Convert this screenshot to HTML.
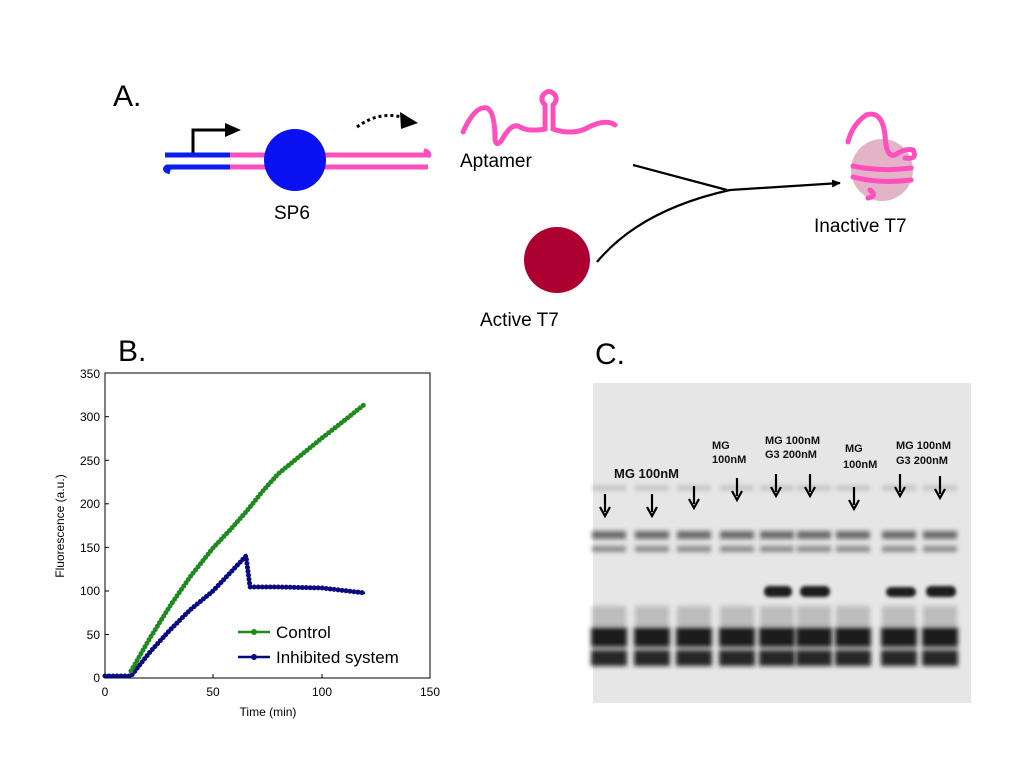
<!DOCTYPE html>
<html><head><style>body{margin:0;background:#fff}svg{display:block}text{font-family:"Liberation Sans",Arial,sans-serif}</style></head><body>
<svg width="1024" height="768" viewBox="0 0 1024 768" xmlns="http://www.w3.org/2000/svg">
<defs>
<filter id="bl" x="-50%" y="-100%" width="200%" height="300%"><feGaussianBlur stdDeviation="2.5"/></filter>
<filter id="bl2" x="-50%" y="-100%" width="200%" height="300%"><feGaussianBlur stdDeviation="1.5"/></filter>
<marker id="ah" markerWidth="10" markerHeight="10" refX="8" refY="5" orient="auto" markerUnits="userSpaceOnUse"><path d="M0,1 L9,5 L0,9 Z" fill="#000"/></marker>
<g id="lane" filter="url(#bl)">
<rect x="-17" y="485" width="34" height="6" fill="#aaa" opacity="0.5"/>
<rect x="-17" y="531" width="34" height="8" fill="#6a6a6a"/>
<rect x="-17" y="546" width="34" height="6" fill="#8a8a8a"/>
<rect x="-17" y="606" width="34" height="20" fill="#aaa" opacity="0.7"/>
<rect x="-18" y="627" width="36" height="20" fill="#1e1e1e"/>
<rect x="-18" y="650" width="36" height="16" fill="#262626"/>
</g>
</defs>
<!-- Panel A -->
<text x="113" y="106" font-size="30">A.</text>
<path d="M193,153 V130 H226" stroke="#000" stroke-width="3" fill="none"/>
<path d="M225,123 L241,130 L225,137 Z" fill="#000"/>
<line x1="165" y1="155" x2="230" y2="155" stroke="#0a1ef0" stroke-width="5"/>
<path d="M230,167 H167 Q163,170 170,172" stroke="#0a1ef0" stroke-width="5" fill="none"/>
<line x1="230" y1="155" x2="430" y2="155" stroke="#ff4fbd" stroke-width="5"/>
<line x1="230" y1="167" x2="428" y2="167" stroke="#ff4fbd" stroke-width="5"/>
<path d="M424,150 Q432,153 428,157" stroke="#ff4fbd" stroke-width="4" fill="none"/>
<circle cx="295" cy="160" r="31" fill="#0a12f2"/>
<text x="274" y="219" font-size="19">SP6</text>
<path d="M357,127 Q380,110 405,118" stroke="#000" stroke-width="3" stroke-dasharray="3 3" fill="none"/>
<path d="M400,112 L418,123 L401,129 Z" fill="#000"/>
<path d="M463,132 Q475,105 487,108 Q495,112 495,140 Q497,148 503,138 Q512,122 520,127 Q528,132 545,129 V105 Q540,100 543,95 Q549,88 555,95 Q558,100 553,105 V129 Q570,135 585,129 Q605,118 615,125" stroke="#ff4fbd" stroke-width="5" fill="none" stroke-linecap="round"/>
<text x="460" y="167" font-size="19">Aptamer</text>
<path d="M633,165 Q690,180 727,190" stroke="#000" stroke-width="2.2" fill="none"/>
<path d="M597,262 Q640,210 730,190 L840,183" stroke="#000" stroke-width="2.2" fill="none" marker-end="url(#ah)"/>
<circle cx="557" cy="260" r="33" fill="#ad0030"/>
<text x="480" y="326" font-size="19">Active T7</text>
<circle cx="882" cy="170" r="31" fill="#e3b3c7"/>
<path d="M848,142 Q852,125 866,115 Q882,110 885,135 Q886,158 895,155 Q905,148 913,150 Q918,160 905,158" stroke="#ff4fbd" stroke-width="5" fill="none" stroke-linecap="round"/>
<path d="M853,166 Q880,172 911,168 M853,177 Q880,184 911,180 M868,198 Q878,196 870,190" stroke="#ff4fbd" stroke-width="5" fill="none" stroke-linecap="round"/>
<text x="814" y="232" font-size="19">Inactive T7</text>
<!-- Panel B -->
<text x="118" y="361" font-size="30">B.</text>
<rect x="105" y="373" width="325" height="305" fill="none" stroke="#000" stroke-width="1"/>
<g font-size="12" text-anchor="end">
<text x="100" y="682">0</text><text x="100" y="639">50</text><text x="100" y="595">100</text><text x="100" y="552">150</text><text x="100" y="508">200</text><text x="100" y="465">250</text><text x="100" y="421">300</text><text x="100" y="378">350</text>
</g>
<g stroke="#000" stroke-width="1">
<line x1="105" y1="634.5" x2="109" y2="634.5"/><line x1="105" y1="591" x2="109" y2="591"/><line x1="105" y1="547.4" x2="109" y2="547.4"/><line x1="105" y1="503.8" x2="109" y2="503.8"/><line x1="105" y1="460.3" x2="109" y2="460.3"/><line x1="105" y1="416.7" x2="109" y2="416.7"/>
<line x1="213" y1="678" x2="213" y2="674"/><line x1="322" y1="678" x2="322" y2="674"/>
</g>
<g font-size="12" text-anchor="middle">
<text x="105" y="696">0</text><text x="213" y="696">50</text><text x="322" y="696">100</text><text x="430" y="696">150</text>
</g>
<text x="268" y="716" font-size="12" text-anchor="middle">Time (min)</text>
<text transform="translate(64,526) rotate(-90)" font-size="12" text-anchor="middle">Fluorescence (a.u.)</text>
<path d="M105,676 L131,676 L150,652 L170,630 L190,610 L213,591 L230,573 L246,556 L250,587 L278,587 L322,588 L365,593" stroke="#0a0a80" stroke-width="2.5" fill="none"/>
<path d="M105,676 L131,676 L150,652 L170,630 L190,610 L213,591 L230,573 L246,556 L250,587 L278,587 L322,588 L365,593" stroke="#0a0a80" stroke-width="5" stroke-dasharray="0 4" stroke-linecap="round" fill="none"/>
<path d="M131,671 L150,638 L170,606 L190,577 L213,548 L230,530 L246,512 L262,492 L278,474 L300,456 L322,438 L345,420 L365,404" stroke="#1f8a1f" stroke-width="2.5" fill="none"/>
<path d="M131,671 L150,638 L170,606 L190,577 L213,548 L230,530 L246,512 L262,492 L278,474 L300,456 L322,438 L345,420 L365,404" stroke="#1f8a1f" stroke-width="5" stroke-dasharray="0 4" stroke-linecap="round" fill="none"/>
<line x1="238" y1="632" x2="270" y2="632" stroke="#1f8a1f" stroke-width="2.5"/><circle cx="254" cy="632" r="3" fill="#1f8a1f"/>
<line x1="238" y1="657" x2="270" y2="657" stroke="#0a0a80" stroke-width="2.5"/><circle cx="254" cy="657" r="3" fill="#0a0a80"/>
<text x="276" y="638" font-size="17">Control</text>
<text x="276" y="663" font-size="17">Inhibited system</text>
<!-- Panel C -->
<text x="595" y="364" font-size="30">C.</text>
<rect x="593" y="383" width="378" height="320" fill="#e6e6e6"/>
<use href="#lane" transform="translate(609,0)"/>
<use href="#lane" transform="translate(652,0)"/>
<use href="#lane" transform="translate(694,0)"/>
<use href="#lane" transform="translate(737,0)"/>
<use href="#lane" transform="translate(777,0)"/>
<use href="#lane" transform="translate(814,0)"/>
<use href="#lane" transform="translate(853,0)"/>
<use href="#lane" transform="translate(899,0)"/>
<use href="#lane" transform="translate(940,0)"/>
<g fill="#1a1a1a" filter="url(#bl2)">
<rect x="764" y="586" width="28" height="11" rx="5"/><rect x="800" y="586" width="30" height="11" rx="5"/>
<rect x="886" y="587" width="30" height="10" rx="5"/><rect x="926" y="586" width="30" height="11" rx="5"/>
</g>
<g stroke="#000" stroke-width="2.2" fill="#000">
<line x1="605" y1="494" x2="605" y2="512"/><path d="M600,507 L605,516 L610,507" fill="none"/>
<line x1="652" y1="494" x2="652" y2="512"/><path d="M647,507 L652,516 L657,507" fill="none"/>
<line x1="694" y1="486" x2="694" y2="504"/><path d="M689,499 L694,508 L699,499" fill="none"/>
<line x1="737" y1="478" x2="737" y2="496"/><path d="M732,491 L737,500 L742,491" fill="none"/>
<line x1="776" y1="474" x2="776" y2="492"/><path d="M771,487 L776,496 L781,487" fill="none"/>
<line x1="810" y1="474" x2="810" y2="492"/><path d="M805,487 L810,496 L815,487" fill="none"/>
<line x1="854" y1="487" x2="854" y2="505"/><path d="M849,500 L854,509 L859,500" fill="none"/>
<line x1="900" y1="474" x2="900" y2="492"/><path d="M895,487 L900,496 L905,487" fill="none"/>
<line x1="940" y1="476" x2="940" y2="494"/><path d="M935,489 L940,498 L945,489" fill="none"/>
</g>
<g font-size="11" font-weight="bold" fill="#111">
<text x="614" y="478" font-size="13">MG 100nM</text>
<text x="712" y="449">MG</text><text x="712" y="463">100nM</text>
<text x="765" y="444">MG 100nM</text><text x="765" y="458">G3 200nM</text>
<text x="845" y="452">MG</text><text x="843" y="468">100nM</text>
<text x="896" y="449">MG 100nM</text><text x="896" y="464">G3 200nM</text>
</g>
</svg>
</body></html>
